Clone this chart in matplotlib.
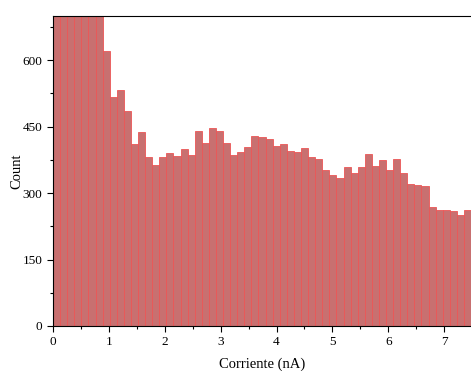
import numpy as np
import matplotlib
matplotlib.use("Agg")
import matplotlib.pyplot as plt
from matplotlib.ticker import MultipleLocator

plt.rcParams['font.family'] = ['Liberation Serif', 'DejaVu Serif']

# ancho de bin (nA) y cuentas por bin
bin_width = 0.1268
counts = [1150, 980, 900, 860, 820, 780, 740, 622, 518, 532,
          485, 410, 438, 382, 363, 381, 390, 384, 399, 386,
          440, 413, 448, 441, 413, 387, 392, 404, 429, 426,
          423, 406, 412, 395, 392, 403, 381, 376, 353, 341,
          334, 359, 346, 360, 388, 362, 374, 353, 376, 345,
          320, 318, 317, 268, 262, 261, 260, 250, 261, 255]

edges = np.arange(len(counts) + 1) * bin_width

fig = plt.figure(figsize=(4.71, 3.71), dpi=100)
ax = fig.add_axes([0.1125, 0.1213, 0.8875, 0.8356])

ax.hist(edges[:-1], bins=edges, weights=counts,
        facecolor='#c87070', edgecolor='#ec5656', linewidth=0.6)

ax.set_xlim(0, 7.48)
ax.set_ylim(0, 700)
ax.xaxis.set_major_locator(MultipleLocator(1))
ax.xaxis.set_minor_locator(MultipleLocator(0.5))
ax.yaxis.set_major_locator(MultipleLocator(150))
ax.yaxis.set_minor_locator(MultipleLocator(75))
ax.tick_params(which='both', direction='out', labelsize=9.5, width=0.8)
ax.tick_params(which='major', length=4)
ax.tick_params(which='minor', length=2.5)
ax.spines['right'].set_visible(False)

ax.set_xlabel('Corriente (nA)', fontsize=10.5)
ax.set_ylabel('Count', fontsize=10.5)
ax.xaxis.set_label_coords(0.5, -0.103)
ax.yaxis.set_label_coords(-0.072, 0.5)

fig.savefig('out.png', dpi=100)
